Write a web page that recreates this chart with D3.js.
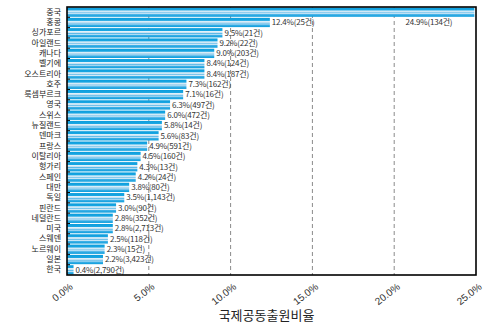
<!DOCTYPE html>
<html><head><meta charset="utf-8">
<script src="https://cdn.jsdelivr.net/npm/d3@7"></script>
<style>
html,body{margin:0;padding:0;background:#fff;}
svg{display:block;font-family:"Noto Sans CJK KR","Noto Sans",sans-serif;}
</style></head>
<body>
<svg id="chart" width="483" height="325"></svg>
<script>
const categories = ["중국","홍콩","싱가포르","아일랜드","캐나다","벨기에","오스트리아","호주","룩셈부르크","영국","스위스","뉴질랜드","덴마크","프랑스","이탈리아","헝가리","스페인","대만","독일","핀란드","네덜란드","미국","스웨덴","노르웨이","일본","한국"];
const ratios = [24.9,12.4,9.5,9.2,9.0,8.4,8.4,7.3,7.1,6.3,6.0,5.8,5.6,4.9,4.5,4.3,4.2,3.8,3.5,3.0,2.8,2.8,2.5,2.3,2.2,0.4];
const counts = ["134","25","21","22","203","124","187","162","16","497","472","14","83","591","160","13","24","80","1,143","90","352","2,713","118","15","3,423","2,790"];
const xTicks = [0,5,10,15,20,25];
const xTitle = "국제공동출원비율";

const svg = d3.select("#chart");
const m = {left:67, right:476, top:7, bottom:275};

const x = d3.scaleLinear().domain([0,25]).range([m.left, m.right]);
const y = d3.scaleBand().domain(categories).range([m.top, m.bottom]).paddingInner(0.1).paddingOuter(0.05);

const defs = svg.append("defs");
const g = defs.append("linearGradient").attr("id","barGrad").attr("x1",0).attr("y1",0).attr("x2",0).attr("y2",1);
[[0,"#0a9ddc"],[0.28,"#1aa6e2"],[0.36,"#e4f2fa"],[0.5,"#bfe0f3"],[0.58,"#5bb9e8"],[0.66,"#d5ebf8"],[0.76,"#3fb0e6"],[1,"#0a9ddc"]]
  .forEach(([o,c]) => g.append("stop").attr("offset",o).attr("stop-color",c));

// gridlines
svg.append("g").selectAll("line").data(xTicks.filter(t => t>0 && t<25)).join("line")
  .attr("x1", d=>x(d)).attr("x2", d=>x(d))
  .attr("y1", m.top).attr("y2", m.bottom)
  .attr("stroke","#8a8a8a").attr("stroke-width",1).attr("stroke-dasharray","4,3");

// bars
const data = categories.map((c,i)=>({c, v:ratios[i], n:counts[i]}));
svg.append("g").selectAll("rect").data(data).join("rect")
  .attr("x", x(0)).attr("y", d=>y(d.c))
  .attr("width", d=>x(d.v)-x(0)).attr("height", y.bandwidth())
  .attr("fill","url(#barGrad)");

// value labels
svg.append("g").selectAll("text").data(data).join("text")
  .attr("x", (d,i)=> i===0 ? x(d.v)-22 : x(d.v)+2)
  .attr("y", (d,i)=> i===0 ? y(categories[1])+y.bandwidth()/2 : y(d.c)+y.bandwidth()/2)
  .attr("dy","0.35em")
  .attr("text-anchor", (d,i)=> i===0 ? "end" : "start")
  .attr("font-size","8px").attr("letter-spacing","-0.2px").attr("fill","#333")
  .text(d=>`${d.v.toFixed(1)}%(${d.n}건)`);

// y axis labels
const yAxis = d3.axisLeft(y).tickSize(0).tickPadding(6);
const ya = svg.append("g").attr("transform",`translate(${m.left},0)`).call(yAxis);
ya.select(".domain").remove();
ya.selectAll("text").attr("font-size","8px").attr("fill","#222").attr("font-family","\"Noto Sans CJK KR\",sans-serif");

// small inner ticks at band boundaries
svg.append("g").selectAll("line").data(categories.slice(1)).join("line")
  .attr("x1", m.left).attr("x2", m.left+3)
  .attr("y1", d=>y(d)-y.step()*y.paddingInner()/2).attr("y2", d=>y(d)-y.step()*y.paddingInner()/2)
  .attr("stroke","#000").attr("stroke-width",1);

// x axis tick labels
const xAxis = d3.axisBottom(x).tickValues(xTicks).tickSize(0).tickPadding(0).tickFormat(d=>d.toFixed(1)+"%");
const xa = svg.append("g").attr("transform",`translate(0,${m.bottom})`).call(xAxis);
xa.select(".domain").remove();
xa.selectAll("text")
  .attr("font-size","10px").attr("fill","#333")
  .attr("text-anchor","end")
  .attr("dy",null).attr("y",0)
  .attr("transform","translate(6,13) rotate(-38)");

// frame
svg.append("rect").attr("x",m.left).attr("y",m.top).attr("width",m.right-m.left).attr("height",m.bottom-m.top)
  .attr("fill","none").attr("stroke","#000").attr("stroke-width",1.6);

// x title
svg.append("text").attr("x",(m.left+m.right)/2-5).attr("y",320).attr("text-anchor","middle")
  .attr("font-size","13px").attr("fill","#222").text(xTitle);
</script>
</body></html>
